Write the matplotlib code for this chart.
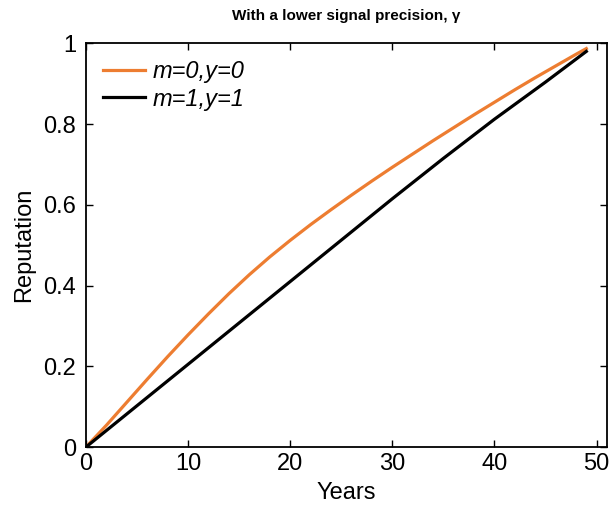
import matplotlib
matplotlib.use('Agg')
import matplotlib.pyplot as plt

plt.rcParams['font.family'] = ['Liberation Sans', 'DejaVu Sans']

# values
years_m0 = [0, 2, 4, 6, 8, 10, 12, 14, 16, 18, 20, 22, 24, 26, 28, 30,
            32, 34, 36, 38, 40, 42, 44, 46, 48, 49]
rep_m0 = [0, 0.054, 0.111, 0.168, 0.224, 0.278, 0.33, 0.38, 0.427, 0.471, 0.512,
          0.551, 0.588, 0.624, 0.659, 0.693, 0.726, 0.759, 0.791, 0.823, 0.854,
          0.885, 0.915, 0.944, 0.973, 0.987]

years_m1 = [0, 10, 20, 30, 35, 40, 45, 49]
rep_m1 = [0, 0.205, 0.41, 0.615, 0.715, 0.812, 0.904, 0.98]

labels = ['m=0,y=0', 'm=1,y=1']
xticks = [0, 10, 20, 30, 40, 50]
yticks = [0, 0.2, 0.4, 0.6, 0.8, 1]
ytick_labels = ['0', '0.2', '0.4', '0.6', '0.8', '1']

fig = plt.figure(figsize=(6.13, 5.08), dpi=100)
ax = fig.add_axes([0.1403, 0.120, 0.8495, 0.7947])

ax.plot(years_m0, rep_m0, color='#ED7D31', lw=2.3, label=labels[0])
ax.plot(years_m1, rep_m1, color='black', lw=2.3, label=labels[1])

ax.set_xlim(0, 51)
ax.set_ylim(0, 1)
ax.set_xticks(xticks)
ax.set_yticks(yticks)
ax.set_yticklabels(ytick_labels)
ax.tick_params(direction='in', top=True, right=True, length=5, width=1,
               labelsize=17)
ax.tick_params(axis='x', pad=4)
ax.tick_params(axis='y', pad=7)
for s in ax.spines.values():
    s.set_linewidth(1.3)

ax.set_xlabel('Years', fontsize=17, labelpad=5)
ax.set_ylabel('Reputation', fontsize=17, labelpad=6)
ax.set_title('With a lower signal precision, γ', fontsize=11, fontweight='bold', pad=17)

leg = ax.legend(loc='upper left', frameon=False, fontsize=17, handlelength=1.8,
                handletextpad=0.3, borderaxespad=0.3, labelspacing=0.2)
for t in leg.get_texts():
    t.set_fontstyle('italic')

fig.savefig('out.png', dpi=100)
